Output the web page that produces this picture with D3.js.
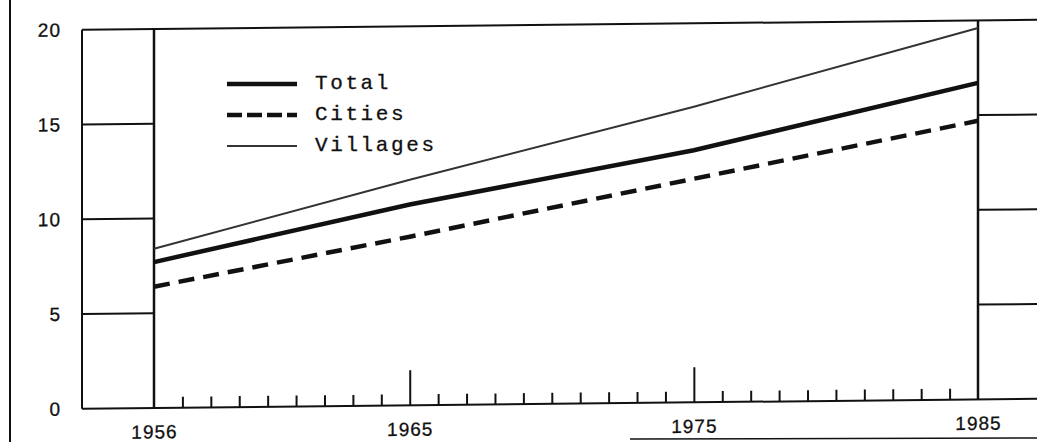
<!DOCTYPE html>
<html>
<head>
<meta charset="utf-8">
<script src="https://cdn.jsdelivr.net/npm/d3@7"></script>
<style>
  body { margin: 0; background: #fff; }
  svg { display: block; }
  .tickText { font-family: "Liberation Sans", Arial, sans-serif; font-size: 19px; fill: #111; stroke: #111; stroke-width: 0.3px; letter-spacing: 1px; }
  .legendText { font-family: "Liberation Mono", "DejaVu Sans Mono", monospace; font-size: 21px; fill: #111; stroke: #111; stroke-width: 0.3px; letter-spacing: 2.6px; }
</style>
</head>
<body>
<div id="chart"></div>
<script>
// values
const years = [1956, 1965, 1975, 1985];
const total = [7.7, 10.6, 13.3, 16.7];
const cities = [6.4, 8.9, 11.8, 14.7];
const villages = [8.4, 11.9, 15.6, 19.6];

const yTicks = [0, 5, 10, 15, 20];
const xLabels = [1956, 1965, 1975, 1985];
const majorTicks = [1965, 1975];
const minorTicks = d3.range(1957, 1985).filter(d => !majorTicks.includes(d));

const seriesNames = ["Total", "Cities", "Villages"];

const svgWidth = 1037;
const svgHeight = 442;

const margin = { top: 29, left: 154 };
const width = 824;   // 1956 -> 1985
const height = 379;  // 20 -> 0

const svg = d3.select("#chart")
    .append("svg")
    .attr("width", svgWidth)
    .attr("height", svgHeight);

// page frame bits outside the plot
svg.append("line")
    .attr("x1", 10).attr("x2", 10)
    .attr("y1", 0).attr("y2", svgHeight)
    .attr("stroke", "#111").attr("stroke-width", 2);

svg.append("line")
    .attr("x1", 630).attr("x2", svgWidth)
    .attr("y1", 439).attr("y2", 438)
    .attr("stroke", "#111").attr("stroke-width", 1.5);

// the scan is slightly tilted, so skew the chart a bit
const chartGroup = svg.append("g")
    .attr("transform", `translate(${margin.left}, ${margin.top}) skewY(-0.6)`);

const xScale = d3.scaleLinear()
    .domain([1956, 1985])
    .range([0, width]);

const yScale = d3.scaleLinear()
    .domain([0, 20])
    .range([height, 0]);

const leftBox = -72;
const rightEdge = svgWidth - margin.left + 5;

// top frame line
chartGroup.append("line")
    .attr("x1", leftBox).attr("x2", rightEdge)
    .attr("y1", yScale(20)).attr("y2", yScale(20))
    .attr("stroke", "#111").attr("stroke-width", 2);

// left box
chartGroup.append("line")
    .attr("x1", leftBox).attr("x2", leftBox)
    .attr("y1", yScale(20)).attr("y2", yScale(0))
    .attr("stroke", "#111").attr("stroke-width", 2);

chartGroup.selectAll(".leftRule")
    .data(yTicks.filter(d => d > 0 && d < 20))
    .enter()
    .append("line")
    .attr("x1", leftBox).attr("x2", 0)
    .attr("y1", d => yScale(d)).attr("y2", d => yScale(d))
    .attr("stroke", "#111").attr("stroke-width", 2);

// right box
chartGroup.selectAll(".rightRule")
    .data(yTicks.filter(d => d > 0 && d < 20))
    .enter()
    .append("line")
    .attr("x1", xScale(1985)).attr("x2", rightEdge)
    .attr("y1", d => yScale(d)).attr("y2", d => yScale(d))
    .attr("stroke", "#111").attr("stroke-width", 2);

// vertical lines at 1956 and 1985
chartGroup.selectAll(".edge")
    .data([1956, 1985])
    .enter()
    .append("line")
    .attr("x1", d => xScale(d)).attr("x2", d => xScale(d))
    .attr("y1", yScale(20)).attr("y2", yScale(0))
    .attr("stroke", "#111").attr("stroke-width", 2.5);

// y labels
const leftAxis = d3.axisLeft(yScale)
    .tickValues(yTicks)
    .tickSize(0)
    .tickPadding(93);

chartGroup.append("g")
    .call(leftAxis)
    .call(g => g.select(".domain").remove())
    .selectAll("text")
    .attr("class", "tickText")
    .attr("fill", null)
    .attr("font-size", null)
    .attr("font-family", null);

// x axis baseline
chartGroup.append("line")
    .attr("x1", leftBox).attr("x2", rightEdge)
    .attr("y1", yScale(0)).attr("y2", yScale(0))
    .attr("stroke", "#111").attr("stroke-width", 2);

// small ticks pointing up
const minorAxis = d3.axisBottom(xScale)
    .tickValues(minorTicks)
    .tickSizeInner(-11)
    .tickSizeOuter(0)
    .tickFormat("");

chartGroup.append("g")
    .attr("transform", `translate(0, ${height})`)
    .call(minorAxis)
    .call(g => g.select(".domain").remove())
    .selectAll("line")
    .attr("stroke", "#111").attr("stroke-width", 2);

const majorAxis = d3.axisBottom(xScale)
    .tickValues(majorTicks)
    .tickSizeInner(-35)
    .tickSizeOuter(0)
    .tickFormat("");

chartGroup.append("g")
    .attr("transform", `translate(0, ${height})`)
    .call(majorAxis)
    .call(g => g.select(".domain").remove())
    .selectAll("line")
    .attr("stroke", "#111").attr("stroke-width", 2);

// year labels
const bottomAxis = d3.axisBottom(xScale)
    .tickValues(xLabels)
    .tickSize(0)
    .tickPadding(17)
    .tickFormat(d3.format("d"));

chartGroup.append("g")
    .attr("transform", `translate(0, ${height})`)
    .call(bottomAxis)
    .call(g => g.select(".domain").remove())
    .selectAll("text")
    .attr("class", "tickText")
    .attr("fill", null)
    .attr("font-size", null)
    .attr("font-family", null);

// series lines
const seriesData = [
    { name: seriesNames[0], values: total, width: 4.5, dash: null, color: "#111" },
    { name: seriesNames[1], values: cities, width: 4.5, dash: "16,9", color: "#111" },
    { name: seriesNames[2], values: villages, width: 2, dash: null, color: "#333" }
];

const line = d3.line()
    .x((d, i) => xScale(years[i]))
    .y(d => yScale(d));

chartGroup.selectAll(".series")
    .data(seriesData)
    .enter()
    .append("path")
    .attr("d", d => line(d.values))
    .attr("fill", "none")
    .attr("stroke", d => d.color)
    .attr("stroke-width", d => d.width)
    .attr("stroke-dasharray", d => d.dash);

// legend
const legend = svg.append("g")
    .attr("transform", "translate(227, 84)");

const legendRows = legend.selectAll(".legendRow")
    .data(seriesData)
    .enter()
    .append("g")
    .attr("transform", (d, i) => `translate(0, ${i * 31})`);

legendRows.append("line")
    .attr("x1", 0).attr("x2", 70)
    .attr("y1", 0).attr("y2", 0)
    .attr("stroke", d => d.color)
    .attr("stroke-width", d => d.width)
    .attr("stroke-dasharray", d => d.dash ? "15,5" : null);

legendRows.append("text")
    .attr("class", "legendText")
    .attr("x", 88)
    .attr("y", 5)
    .text(d => d.name);
</script>
</body>
</html>
